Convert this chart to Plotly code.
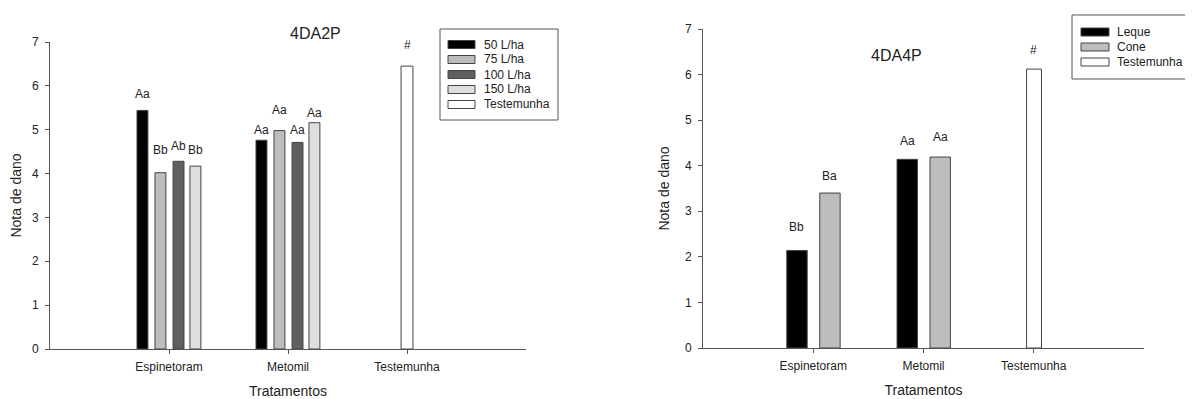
import plotly.graph_objects as go

# ---------------- data ----------------
categories = ["Espinetoram", "Metomil", "Testemunha"]

# Left chart: 4DA2P
rates = ["50 L/ha", "75 L/ha", "100 L/ha", "150 L/ha"]
left_esp = [5.44, 4.02, 4.28, 4.17]
left_met = [4.76, 4.98, 4.71, 5.16]
left_test = 6.45
left_letters_esp = ["Aa", "Bb", "Ab", "Bb"]
left_letters_met = ["Aa", "Aa", "Aa", "Aa"]
left_label_y_esp = [5.82, 4.54, 4.62, 4.54]
left_label_y_met = [5.00, 5.45, 5.00, 5.39]
left_test_label = "#"
left_test_label_y = 6.93

# Right chart: 4DA4P
nozzles = ["Leque", "Cone"]
right_esp = [2.14, 3.40]
right_met = [4.14, 4.19]
right_test = 6.12
right_letters_esp = ["Bb", "Ba"]
right_letters_met = ["Aa", "Aa"]
right_label_y_esp = [2.66, 3.77]
right_label_y_met = [4.55, 4.62]
right_test_label = "#"
right_test_label_y = 6.54

control_name = "Testemunha"
y_ticks = [0, 1, 2, 3, 4, 5, 6, 7]

# ---------------- style / layout helpers ----------------
FONT = "Liberation Sans, Arial, sans-serif"
TXT = "#222222"
OUTLINE = "#444444"
AXIS = "#555555"
OFF = 8                      # page body margin
W, H = 1193 - OFF, 399 - OFF


def px(x):
    return (x - OFF) / W


def py(y):
    return 1 - (y - OFF) / H


left_colors = ["#000000", "#bdbdbd", "#5f5f5f", "#dedede"]
right_colors = ["#000000", "#bdbdbd"]
left_offsets = [-0.269, -0.118, 0.034, 0.176]
left_width = 0.092
right_offsets = [-0.24, 0.059]
right_width = 0.185

fig = go.Figure()

# left bars
for i, r in enumerate(rates):
    fig.add_trace(go.Bar(
        x=categories[:2], y=[left_esp[i], left_met[i]], name=r,
        marker=dict(color=left_colors[i], line=dict(color=OUTLINE, width=1)),
        offset=left_offsets[i], width=left_width,
        xaxis="x", yaxis="y", showlegend=False))
fig.add_trace(go.Bar(
    x=[categories[2]], y=[left_test], name=control_name,
    marker=dict(color="#ffffff", line=dict(color=OUTLINE, width=1)),
    offset=-0.05, width=0.1, xaxis="x", yaxis="y", showlegend=False))

# right bars
for i, n in enumerate(nozzles):
    fig.add_trace(go.Bar(
        x=categories[:2], y=[right_esp[i], right_met[i]], name=n,
        marker=dict(color=right_colors[i], line=dict(color=OUTLINE, width=1)),
        offset=right_offsets[i], width=right_width,
        xaxis="x2", yaxis="y2", showlegend=False))
fig.add_trace(go.Bar(
    x=[categories[2]], y=[right_test], name=control_name,
    marker=dict(color="#ffffff", line=dict(color=OUTLINE, width=1)),
    offset=-0.065, width=0.135, xaxis="x2", yaxis="y2", showlegend=False))

ann = []
shapes = []


def lab(xref, yref, x, y, t):
    ann.append(dict(x=x, y=y, xref=xref, yref=yref, text=t, showarrow=False,
                    font=dict(family=FONT, size=12, color=TXT)))


for i in range(4):
    cx = left_offsets[i] + left_width / 2
    lab("x", "y", 0 + cx, left_label_y_esp[i], left_letters_esp[i])
    lab("x", "y", 1 + cx, left_label_y_met[i], left_letters_met[i])
lab("x", "y", 2, left_test_label_y, left_test_label)
for i in range(2):
    cx = right_offsets[i] + right_width / 2
    lab("x2", "y2", 0 + cx, right_label_y_esp[i], right_letters_esp[i])
    lab("x2", "y2", 1 + cx, right_label_y_met[i], right_letters_met[i])
lab("x2", "y2", 2, right_test_label_y, right_test_label)

# titles
ann.append(dict(x=px(288), y=py(23), xref="paper", yref="paper",
                text="4DA2P", showarrow=False,
                font=dict(family=FONT, size=16, color=TXT)))
ann.append(dict(x=px(923.5), y=py(45), xref="paper", yref="paper",
                text="4DA4P", showarrow=False,
                font=dict(family=FONT, size=16, color=TXT)))


# custom legends (wide swatches like the original)
def legend(box, sw_x0, sw_x1, text_x, y0, step, names, colors):
    bx0, by0, bx1, by1 = box
    shapes.append(dict(type="rect", xref="paper", yref="paper",
                       x0=px(bx0), x1=px(bx1), y0=py(by1), y1=py(by0),
                       line=dict(color=AXIS, width=1), fillcolor="white"))
    for k, (nm, col) in enumerate(zip(names, colors)):
        yc = y0 + k * step
        shapes.append(dict(type="rect", xref="paper", yref="paper",
                           x0=px(sw_x0), x1=px(sw_x1), y0=py(yc + 4), y1=py(yc - 4),
                           line=dict(color=OUTLINE, width=1), fillcolor=col))
        ann.append(dict(x=px(text_x), y=py(yc), xref="paper", yref="paper",
                        xanchor="left", yanchor="middle", text=nm, showarrow=False,
                        font=dict(family=FONT, size=12, color=TXT)))


legend((440, 29, 558, 120), 448, 475, 482, 44.5, 15,
       rates + [control_name], left_colors + ["#ffffff"])
legend((1072, 15, 1192, 79), 1081, 1109, 1115, 32, 15,
       nozzles + [control_name], right_colors + ["#ffffff"])

xcommon = dict(type="category", categoryorder="array", categoryarray=categories,
               range=[-1, 3], showline=True, linecolor=AXIS, linewidth=1,
               ticks="outside", ticklen=4, tickcolor=AXIS, showgrid=False,
               zeroline=False, automargin=False, ticklabelstandoff=3,
               tickfont=dict(family=FONT, size=12, color=TXT),
               title=dict(text="Tratamentos", standoff=12,
                          font=dict(family=FONT, size=14, color=TXT)))
ycommon = dict(range=[0, 7], tickvals=y_ticks, showline=True, linecolor=AXIS,
               linewidth=1, ticks="outside", ticklen=4, tickcolor=AXIS,
               showgrid=False, zeroline=False, automargin=False, ticklabelstandoff=4,
               tickfont=dict(family=FONT, size=12, color=TXT),
               title=dict(text="Nota de dano", standoff=12,
                          font=dict(family=FONT, size=14, color=TXT)))

fig.update_layout(
    width=W, height=H,
    margin=dict(l=0, r=0, t=0, b=0),
    paper_bgcolor="white", plot_bgcolor="white",
    barmode="overlay",
    font=dict(family=FONT, color=TXT),
    xaxis=dict(xcommon, domain=[px(50), px(526)], anchor="y"),
    yaxis=dict(ycommon, domain=[py(349), py(42)], anchor="x"),
    xaxis2=dict(xcommon, domain=[px(703), px(1144)], anchor="y2"),
    yaxis2=dict(ycommon, domain=[py(348), py(29)], anchor="x2"),
    annotations=ann,
    shapes=shapes,
    showlegend=False,
)

fig.write_html("out.html")
